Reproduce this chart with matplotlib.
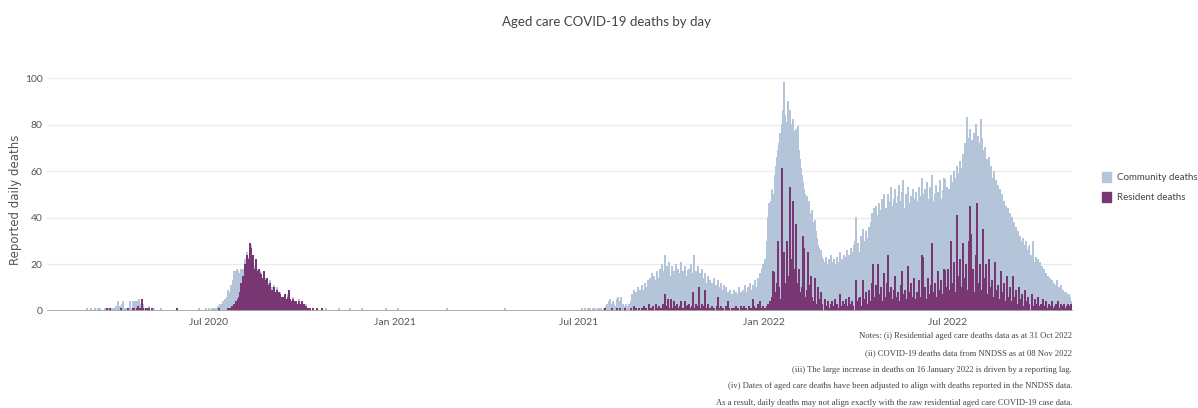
import pandas as pd
import matplotlib
matplotlib.use("Agg")
import matplotlib.pyplot as plt
from matplotlib.patches import Patch

COMMUNITY_COLOR = '#b4c4d9'
RESIDENT_COLOR = '#783673'

# daily deaths, one list per month
# 2020 starts in March
community_2020 = [
    [0,0,1,0,0,1,0,0,0,1,0,0,1,0,1,0,0,0,0,1,0,0,1,0,0,1,0,1,0,1,2],
    [0,4,1,2,0,3,4,1,0,1,0,0,1,4,1,0,3,1,4,2,3,1,4,3,1,0,2,0,1,0],
    [0,0,1,0,0,0,0,1,0,0,0,0,0,0,1,0,0,0,0,0,0,0,0,0,0,0,0,0,0,0,0],
    [0,0,0,0,0,0,0,0,0,0,0,0,0,0,0,0,0,0,0,0,1,0,0,0,0,0,0,1,0,0],
    [1,0,0,1,0,1,0,1,1,2,1,3,2,3,4,2,5,4,6,8,5,7,10,9,12,14,11,13,15,12,10],
    [8,6,5,3,4,2,3,1,2,1,0,1,2,0,1,1,0,1,2,0,1,0,1,0,1,0,0,1,0,1,0],
    [1,0,1,0,0,1,0,0,1,0,0,0,1,0,0,0,1,0,0,0,0,1,0,0,0,0,0,1,0,0],
    [0,0,0,0,1,0,0,0,0,0,0,0,0,0,0,0,0,0,0,0,0,0,0,0,1,0,0,0,0,0,0],
    [0,0,0,0,0,0,1,0,0,0,0,0,0,0,0,0,1,0,0,0,0,0,0,0,0,0,0,0,1,0],
    [0,0,0,0,0,0,0,0,0,0,0,0,0,0,0,0,0,0,0,0,0,0,1,0,0,0,0,0,0,0,0],
]
resident_2020 = [
    [0,0,0,0,0,0,0,0,0,0,0,0,0,0,0,0,0,0,0,0,0,1,0,0,1,0,0,0,0,0,0],
    [0,0,0,0,1,0,0,0,0,0,0,1,0,0,0,0,1,1,0,0,1,2,1,0,1,5,1,0,0,1],
    [1,0,1,0,0,1,0,0,0,0,0,0,0,0,0,0,0,0,0,0,0,0,0,0,0,0,0,0,0,1,0],
    [0] * 30,
    [0,0,0,0,0,0,0,0,0,0,1,0,0,0,0,0,0,0,0,1,0,1,1,2,1,3,2,4,3,5,6],
    [8,12,10,15,13,20,17,24,19,22,29,27,21,24,18,15,22,17,13,18,16,14,12,17,13,10,14,11,9,12,8],
    [9,7,10,8,6,9,5,8,7,6,5,6,4,7,5,4,6,9,5,4,3,5,4,3,4,2,3,4,2,3],
    [4,2,3,1,2,0,1,0,1,0,0,1,0,0,0,1,0,0,0,0,1,0,0,0,0,0,0,0,0,0,0],
    [0] * 30,
    [0] * 31,
]

# 2021 starts in January
community_2021 = [
    [0,0,0,1,0,0,0,0,0,0,0,0,0,0,0,0,0,0,0,0,0,0,0,0,0,0,0,0,0,0,0],
    [0,0,0,0,0,0,0,0,0,0,0,0,0,0,0,0,0,0,0,0,1,0,0,0,0,0,0,0],
    [0] * 31,
    [0,0,0,0,0,0,0,0,0,0,0,0,0,0,0,0,0,0,0,1,0,0,0,0,0,0,0,0,0,0],
    [0] * 31,
    [0] * 30,
    [0,0,0,0,1,0,0,1,0,0,1,0,1,0,0,1,0,1,0,0,1,0,1,1,0,1,0,2,3,2,4],
    [5,3,1,4,3,1,2,4,6,3,3,6,2,3,1,1,3,2,1,3,2,3,7,5,7,6,7,5,10,6,9],
    [8,10,6,7,12,6,10,13,6,14,10,16,10,15,10,10,16,14,9,18,14,20,10,16,17,14,19,9,20,12],
    [10,18,11,13,11,20,11,17,12,14,17,13,16,11,15,13,12,15,13,20,11,8,23,14,14,11,17,3,15,12,15],
    [14,8,7,11,9,12,11,12,8,10,10,13,9,11,5,7,9,8,10,6,8,11,7,8,5,4,5,9,4,6],
    [6,8,5,6,4,6,10,6,6,5,8,5,11,5,8,10,5,12,8,6,6,6,13,9,9,11,12,12,10,18,18],
]
resident_2021 = [
    [0] * 31,
    [0] * 28,
    [0] * 31,
    [0] * 30,
    [0] * 31,
    [0] * 30,
    [0,0,0,0,0,0,0,0,0,0,0,0,0,0,0,0,0,0,0,0,0,0,0,0,0,0,1,0,0,0,0],
    [0,0,1,0,0,0,0,1,0,0,1,0,0,0,0,1,0,0,0,0,0,1,0,0,2,0,1,0,0,1,0],
    [0,1,0,2,0,1,0,0,3,0,1,0,2,0,0,3,1,0,2,0,1,0,3,1,7,2,0,5,1,0],
    [5,1,0,4,2,0,3,1,0,2,4,0,1,0,4,2,0,3,1,0,2,8,1,0,3,0,2,10,1,0,3],
    [0,2,9,1,0,3,0,1,0,2,0,1,0,0,2,6,1,0,2,0,1,0,0,2,0,4,1,0,0,1],
    [0,1,0,2,0,1,0,0,2,0,1,2,0,1,0,0,2,0,1,0,5,2,0,1,0,3,0,4,1,0,2],
]

# 2022 starts in January
community_2022 = [
    [18,21,20,28,37,46,40,45,46,33,50,62,54,39,62,71,71,19,68,73,84,69,48,75,83,33,58,65,35,59,73],
    [41,60,79,51,57,61,48,23,25,44,47,40,19,36,42,25,37,38,33,25,31,31,18,22,25,18,20,22],
    [21,14,21,20,14,21,19,21,17,17,20,15,18,20,18,21,18,16,22,16,21,19,18,24,21,18,19,27,19,23,28],
    [30,27,23,29,19,30,28,22,25,26,26,26,31,27,29,38,30,19,38,37,34,36,20,39,43,28,44,44,34,36],
    [44,27,26,39,42,43,40,41,39,37,40,40,41,50,43,36,34,49,44,33,45,47,34,33,46,37,38,52,34,40,51],
    [39,42,40,43,45,33,27,44,42,41,55,27,41,53,33,29,39,43,38,48,46,34,33,56,35,38,52,39,39,53],
    [26,43,48,28,34,55,39,42,57,21,38,59,42,45,61,38,49,72,49,74,74,40,33,33,73,51,68,71,56,22,63],
    [72,46,73,74,34,49,70,41,58,58,44,45,62,44,47,60,30,47,49,43,42,52,28,42,43,35,37,45,24,38,38],
    [32,33,40,20,32,33,27,28,34,19,27,30,20,29,28,16,26,26,17,25,24,15,28,21,14,20,20,16,16,21],
    [14,19,10,16,14,12,12,15,9,12,11,9,9,12,7,8,13,4,9,9,8,5,9,5,5,8,5,2,7,4,1],
]
resident_2022 = [
    [0,1,0,2,3,0,4,2,6,17,8,0,12,30,10,5,0,61,18,25,0,12,30,15,0,53,22,10,47,18,0],
    [37,12,0,18,8,0,10,32,27,6,0,9,25,11,0,15,6,0,4,14,3,0,10,5,0,8,3,0],
    [0,5,2,0,4,1,0,3,4,0,2,5,0,3,1,0,7,2,0,4,3,0,5,2,0,6,3,0,4,2,0],
    [0,13,4,0,6,2,0,13,5,0,8,3,0,9,4,0,12,20,6,0,11,5,20,7,0,10,4,0,16,6],
    [0,12,24,8,0,10,5,0,9,15,6,0,8,4,0,11,17,7,0,9,5,0,19,8,0,12,6,0,14,5,0],
    [8,0,13,6,0,24,23,0,10,5,0,14,7,0,11,29,8,0,12,6,0,17,9,0,13,7,0,18,10,0],
    [18,9,0,30,12,0,21,8,0,41,15,0,22,10,0,29,14,0,20,9,0,30,45,33,0,18,8,0,24,46,12],
    [0,20,9,0,35,14,0,20,7,0,22,10,0,13,6,0,21,9,0,11,5,0,17,8,0,12,4,0,15,6,0],
    [10,4,0,15,6,0,9,3,0,10,5,0,7,2,0,9,4,0,6,3,0,7,2,0,5,3,0,6,2,0],
    [3,0,5,2,0,4,1,0,3,2,0,4,1,0,2,3,0,4,1,0,3,2,0,3,1,0,2,3,0,2,3],
]

x_ticks = ['2020-07-01', '2021-01-01', '2021-07-01', '2022-01-01', '2022-07-01']
x_tick_labels = ['Jul 2020', 'Jan 2021', 'Jul 2021', 'Jan 2022', 'Jul 2022']
y_ticks = [0, 20, 40, 60, 80, 100]

notes = [
    'Notes: (i) Residential aged care deaths data as at 31 Oct 2022',
    '(ii) COVID-19 deaths data from NNDSS as at 08 Nov 2022',
    '(iii) The large increase in deaths on 16 January 2022 is driven by a reporting lag.',
    '(iv) Dates of aged care deaths have been adjusted to align with deaths reported in the NNDSS data.',
    'As a result, daily deaths may not align exactly with the raw residential aged care COVID-19 case data.',
]


def to_series(months, first_month):
    parts = []
    for i, month in enumerate(months):
        start = pd.Timestamp(first_month) + pd.DateOffset(months=i)
        idx = pd.date_range(start, periods=len(month), freq='D')
        parts.append(pd.Series(month, index=idx))
    return pd.concat(parts)


community = pd.concat([to_series(community_2020, '2020-03-01'),
                       to_series(community_2021, '2021-01-01'),
                       to_series(community_2022, '2022-01-01')])
resident = pd.concat([to_series(resident_2020, '2020-03-01'),
                      to_series(resident_2021, '2021-01-01'),
                      to_series(resident_2022, '2022-01-01')])
community = community.groupby(level=0).sum()
resident = resident.groupby(level=0).sum()
days = community.index.union(resident.index)
community = community.reindex(days, fill_value=0)
resident = resident.reindex(days, fill_value=0)

fig = plt.figure(figsize=(11.98, 4.08), dpi=100)
ax = fig.add_axes([47/1198, 1-311/408, (1073-47)/1198, 233/408])

# ~1px per day: bars drawn aliased so neighbouring days leave no seams;
# community (stacked on resident) first, resident on top so it isn't overdrawn
ax.bar(days, community.values, width=1.0, bottom=resident.values,
       color=COMMUNITY_COLOR, linewidth=0, zorder=2, snap=False, antialiased=False)
ax.bar(days, resident.values, width=1.0, color=RESIDENT_COLOR, linewidth=0,
       zorder=3, snap=False, antialiased=False)

ax.set_xlim(pd.Timestamp('2020-01-23'), pd.Timestamp('2022-11-02'))
ax.set_ylim(0, 100)
for s in ax.spines.values():
    s.set_visible(False)
ax.set_yticks(y_ticks)
ax.yaxis.grid(True, color='#ececec', lw=1, zorder=0)
ax.axhline(0, color='#aaaaaa', lw=2, zorder=4)
ax.set_xticks(pd.to_datetime(x_ticks))
ax.set_xticklabels(x_tick_labels)
ax.tick_params(length=0, labelsize=7.5, colors='#555555')
ax.tick_params(axis='x', pad=5)
ax.tick_params(axis='y', pad=3)
for lab in ax.get_xticklabels() + ax.get_yticklabels():
    lab.set_family(['Lato', 'DejaVu Sans'])

fig.text(607/1198, 1-22/408, 'Aged care COVID-19 deaths by day', ha='center', va='center',
         fontsize=9.5, color='#444444', family=['Lato', 'DejaVu Sans'])
fig.text(16/1198, 1-200/408, 'Reported daily deaths', rotation=90, ha='center', va='center',
         fontsize=8.5, color='#555555', family='DejaVu Sans')

handles = [Patch(color=COMMUNITY_COLOR), Patch(color=RESIDENT_COLOR)]
fig.legend(handles, ['Community deaths', 'Resident deaths'], loc='upper left',
           bbox_to_anchor=(1096/1198, 1-166/408), frameon=False,
           prop={'family': ['Lato', 'DejaVu Sans'], 'size': 7}, labelcolor='#444444',
           handlelength=0.9, handleheight=1.2, handletextpad=0.7, labelspacing=1.0,
           borderaxespad=0.2)

for i, line in enumerate(notes):
    fig.text(1072/1198, 1-(336 + 16.8*i)/408, line, ha='right', va='center',
             fontsize=6.2, color='#444444', family='Liberation Serif')

fig.savefig('out.png', dpi=100)
